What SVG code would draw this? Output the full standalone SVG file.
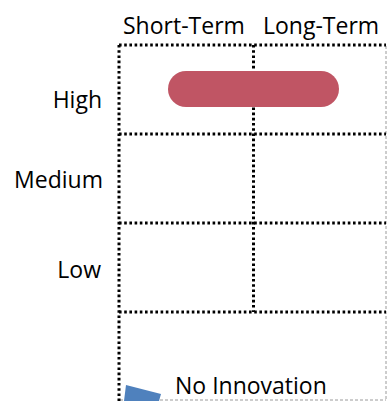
<svg xmlns="http://www.w3.org/2000/svg" width="387" height="401" viewBox="0 0 387 401">
  <style>
    .dot { stroke: #000; stroke-width: 3; stroke-dasharray: 2.6 2.6; fill: none; }
    .dash { stroke: #9a9a9a; stroke-width: 1; stroke-dasharray: 3 2; fill: none; }
    .lbl { font-family: "Open Sans", "Liberation Sans", sans-serif; font-size: 23px; fill: #000; }
  </style>
  <rect width="387" height="401" fill="#fff"/>
  <g id="frame">
    <line class="dash" x1="386" y1="46" x2="386" y2="400"/>
    <line class="dash" x1="120" y1="400" x2="386" y2="400"/>
  </g>
  <g id="grid">
    <line class="dot" x1="119" y1="45" x2="386" y2="45"/>
    <line class="dot" x1="119" y1="134" x2="386" y2="134"/>
    <line class="dot" x1="119" y1="223" x2="386" y2="223"/>
    <line class="dot" x1="119" y1="312" x2="386" y2="312"/>
    <line class="dot" x1="119" y1="45" x2="119" y2="401"/>
    <line class="dot" x1="253.5" y1="45" x2="253.5" y2="312"/>
  </g>
  <g id="headers">
    <text class="lbl" x="123" y="34">Short-Term</text>
    <text class="lbl" x="263" y="34">Long-Term</text>
  </g>
  <g id="rows">
    <text class="lbl" x="102" y="108" text-anchor="end">High</text>
    <text class="lbl" x="103" y="188" text-anchor="end">Medium</text>
    <text class="lbl" x="101" y="278" text-anchor="end">Low</text>
  </g>
  <g id="bar">
    <rect x="168" y="71" width="171" height="36" rx="18" fill="#C05564"/>
  </g>
  <g id="no-innovation">
    <polygon points="126,385 161,394 159,401 124,401" fill="#4F81BD"/>
    <text class="lbl" x="175" y="394">No Innovation</text>
  </g>
</svg>
